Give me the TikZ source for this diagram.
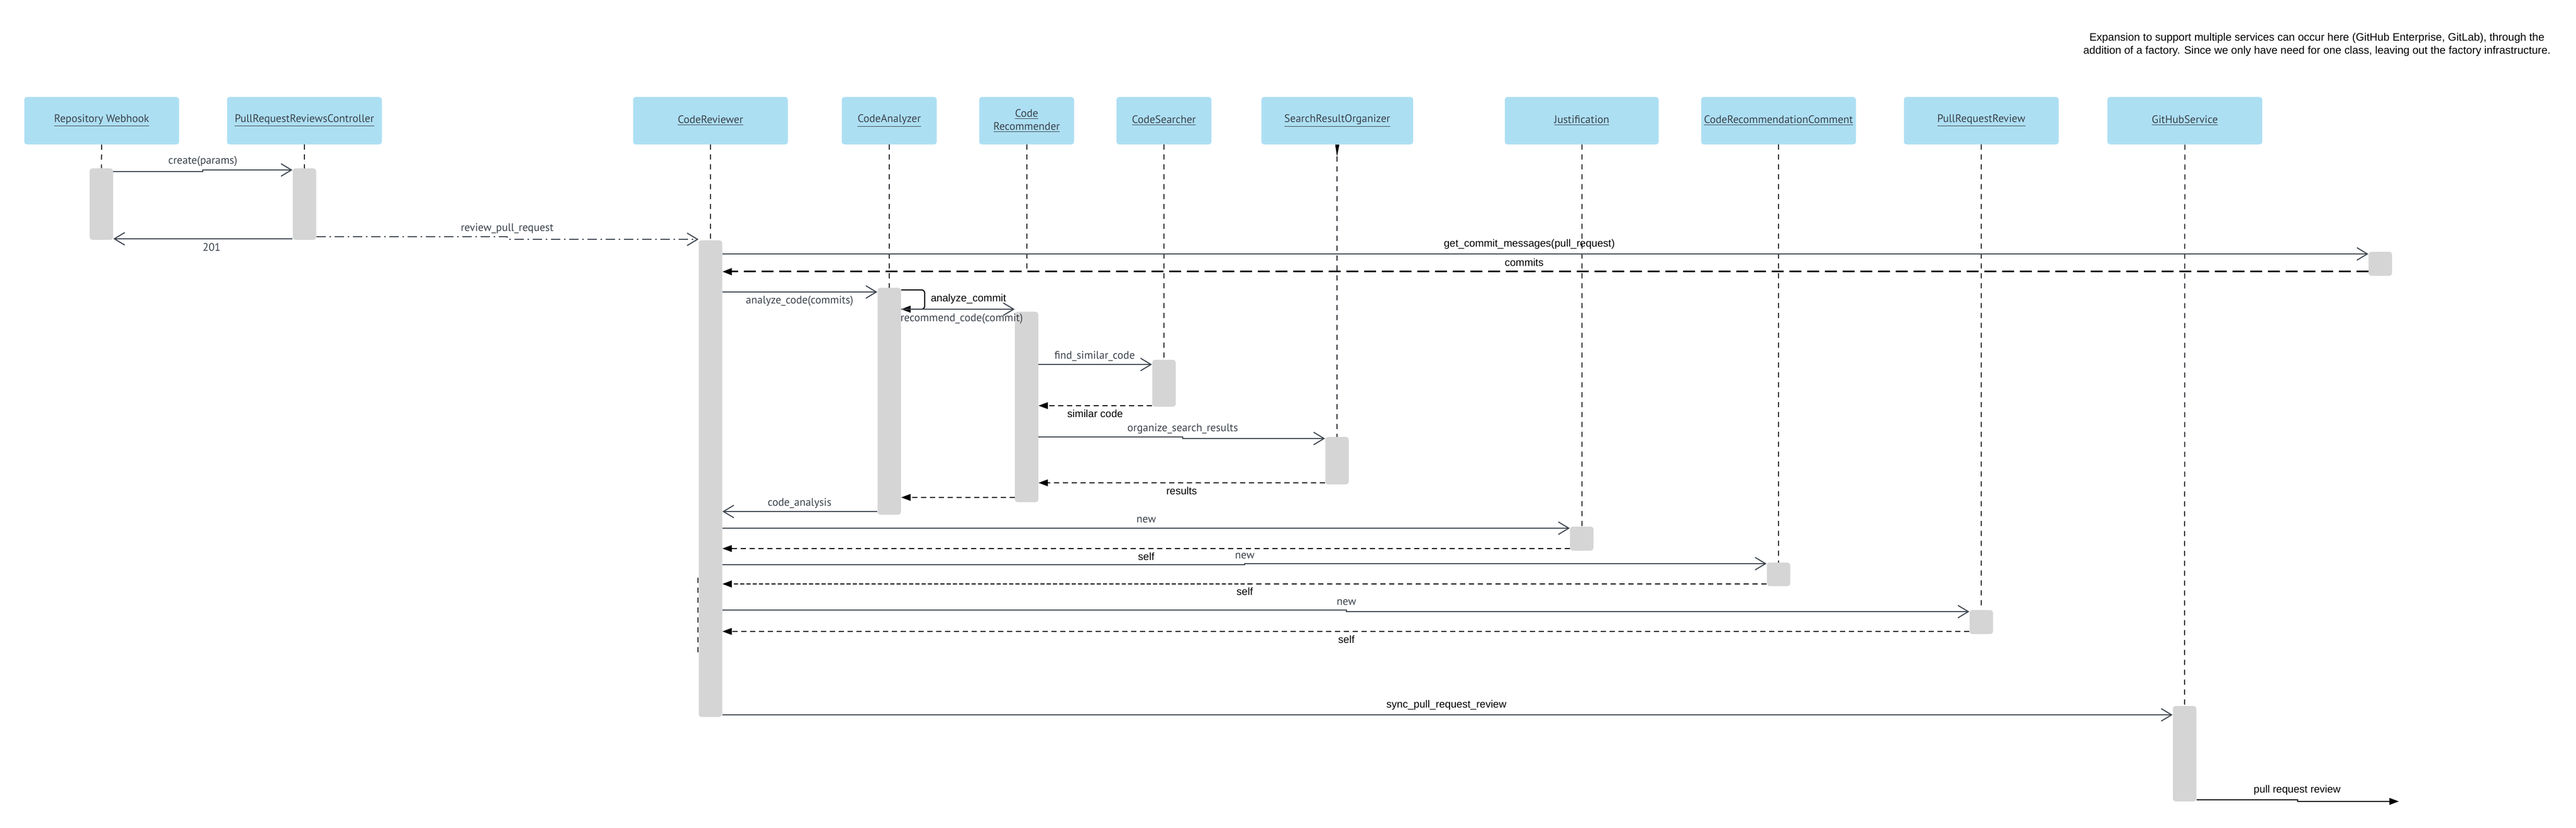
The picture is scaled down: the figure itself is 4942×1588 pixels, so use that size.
\documentclass[tikz,border=0pt]{standalone}
\usepackage{fontspec}
\setmainfont{PT Sans}
\newfontfamily\lib{Liberation Sans}
\usetikzlibrary{arrows.meta}
\definecolor{boxblue}{HTML}{ADDFF3}
\definecolor{actgray}{HTML}{D5D5D5}
\definecolor{linegray}{HTML}{3F4750}
\definecolor{lifegray}{HTML}{23272D}
\definecolor{txtgray}{HTML}{3A414A}
\begin{document}
\begin{tikzpicture}[x=0.5pt,y=-0.5pt,
  objbox/.style={fill=boxblue, rounded corners=2.5pt, minimum height=45.5pt, inner sep=0pt,
    align=center, text=txtgray, font=\fontsize{10.5}{12.5}\selectfont},
  wide/.style={minimum width=148.5pt},
  narrow/.style={minimum width=91pt},
  act/.style={fill=actgray, rounded corners=2.5pt, minimum width=22.5pt, inner sep=0pt},
  lifeline/.style={draw=lifegray, line width=1pt, dash pattern=on 5pt off 4.5pt},
  msg/.style={draw=linegray, line width=1.1pt, -{Straight Barb[length=10pt,width=12pt,line width=1pt]}},
  ret/.style={draw=black, line width=0.55pt, dash pattern=on 5pt off 3.5pt, -{Triangle[length=9pt,width=6.5pt]}},
  gl/.style={text=txtgray, inner sep=0pt, font=\fontsize{10.5}{12}\selectfont},
  bl/.style={text=black, inner sep=0pt, font=\lib\fontsize{10}{12}\selectfont}
]
\useasboundingbox (0,0) rectangle (4942,1588);
\fill[white] (0,0) rectangle (4942,1588);

% annotation
\node[text=black, align=center, inner sep=0pt, font=\lib\fontsize{10.4}{12.5}\selectfont] (note) at (4445,86)
  {Expansion to support multiple services can occur here (GitHub Enterprise, GitLab), through the\\
   addition of a factory. Since we only have need for one class, leaving out the factory infrastructure.};

% object boxes
\node[objbox,wide] (rw) at (195,231.5) {\underline{Repository Webhook}};
\node[objbox,wide] (prrc) at (584,231.5) {\underline{PullRequestReviewsController}};
\node[objbox,wide] (cr) at (1363,231.5) {\underline{CodeReviewer}};
\node[objbox,narrow] (ca) at (1706,231.5) {\underline{CodeAnalyzer}};
\node[objbox,narrow] (crec) at (1969.5,231.5) {\underline{Code}\\\underline{Recommender}};
\node[objbox,narrow] (cs) at (2233,231.5) {\underline{CodeSearcher}};
\node[objbox,minimum width=145.5pt] (sro) at (2565.5,231.5) {\underline{SearchResultOrganizer}};
\node[objbox,minimum width=147.5pt] (jus) at (3034.5,231.5) {\underline{Justification}};
\node[objbox,wide] (crc) at (3412,231.5) {\underline{CodeRecommendationComment}};
\node[objbox,wide] (prr) at (3801,231.5) {\underline{PullRequestReview}};
\node[objbox,wide] (gh) at (4191.5,231.5) {\underline{GitHubService}};

% activation bars
\node[act,minimum height=68.5pt] (rwA) at (194.5,391.5) {};
\node[act,minimum height=68.5pt] (prrcA) at (584,391.5) {};
\node[act,minimum height=457pt] (crA) at (1363,918) {};
\node[act,minimum height=217.5pt] (caA) at (1706,769.5) {};
\node[act,minimum height=182.5pt] (crecA) at (1969.5,780.5) {};
\node[act,minimum height=45pt] (csA) at (2233,735) {};
\node[act,minimum height=45.5pt] (sroA) at (2565,883.5) {};
\node[act,minimum height=23pt] (jusA) at (3034.5,1033) {};
\node[act,minimum height=22.5pt] (crcA) at (3412,1101.5) {};
\node[act,minimum height=23pt] (prrA) at (3801,1193) {};
\node[act,minimum height=91.5pt] (ghA) at (4191,1445.5) {};
\node[act,minimum height=23pt] (extA) at (4566.5,506) {};

% lifelines
\coordinate (crecEnd) at (1969.5,519);
\coordinate (crLa) at (1339,1108);
\coordinate (crLb) at (1339,1253);
\coordinate (sroTip) at (2565,300);
\draw[lifeline] (rw.south) -- (rwA.north);
\draw[lifeline] (prrc.south) -- (prrcA.north);
\draw[lifeline] (cr.south) -- (crA.north);
\draw[lifeline] (ca.south) -- (caA.north);
\draw[lifeline] (crec.south) -- (crecEnd);
\draw[lifeline] (cs.south) -- (csA.north);
\draw[lifeline] (sroTip) -- (sroA.north);
\fill[black] (sro.south) ++(-4,0) -- ++(8,0) -- (sroTip) -- cycle;
\draw[lifeline] (jus.south) -- (jusA.north);
\draw[lifeline] (crc.south) -- (crcA.north);
\draw[lifeline] (prr.south) -- (prrA.north);
\draw[lifeline] (gh.south) -- (ghA.north);
\draw[lifeline] (crLa) -- (crLb);

% messages
\draw[msg] (rwA.east |- 0,329) -- (389,329) -- (389,326) -- (prrcA.west |- 0,326);
\node[gl] (l1) at (389,309) {create(params)};
\draw[msg] (prrcA.west |- 0,458) -- (rwA.east |- 0,458);
\node[gl] (l2) at (406,474) {201};
\draw[msg, dash pattern=on 9pt off 3.5pt on 1.5pt off 3.5pt] (prrcA.east |- 0,454) -- (973,454) -- (973,459) -- (crA.west |- 0,459);
\node[gl] (l3) at (973,438) {review\_pull\_request};
\draw[msg] (crA.east |- 0,487) -- (extA.west |- 0,487);
\node[bl] (l4) at (2934,468) {get\_commit\_messages(pull\_request)};
\draw[ret, line width=1.5pt, dash pattern=on 11.5pt off 5.5pt] (extA.west |- 0,521) -- (crA.east |- 0,521);
\node[bl] (l5) at (2924,503) {commits};
\draw[msg] (crA.east |- 0,560) -- (caA.west |- 0,560);
\node[gl] (l6) at (1534,577) {analyze\_code(commits)};
\draw[black, line width=1.1pt, rounded corners=3pt, -{Triangle[length=9pt,width=6.5pt]}] (caA.east |- 0,556) -- (1774,556) -- (1774,593) -- (caA.east |- 0,593);
\node[bl] (l7) at (1858,573) {analyze\_commit};
\draw[msg] (caA.east |- 0,593) -- (crecA.west |- 0,593);
\node[gl] (l8) at (1845,611) {recommend\_code(commit)};
\draw[msg] (crecA.east |- 0,699) -- (csA.west |- 0,699);
\node[gl] (l9) at (2100,683) {find\_similar\_code};
\draw[ret] (csA.west |- 0,778) -- (crecA.east |- 0,778);
\node[bl] (l10) at (2101,793) {similar code};
\draw[msg] (crecA.east |- 0,838) -- (2269,838) -- (2269,841) -- (sroA.west |- 0,841);
\node[gl] (l11) at (2269,822) {organize\_search\_results};
\draw[ret] (sroA.west |- 0,926) -- (crecA.east |- 0,926);
\node[bl] (l12) at (2267,941) {results};
\draw[ret] (crecA.west |- 0,954) -- (caA.east |- 0,954);
\draw[msg] (caA.west |- 0,981) -- (crA.east |- 0,981);
\node[gl] (l13) at (1534,965) {code\_analysis};
\draw[msg] (crA.east |- 0,1013) -- (jusA.west |- 0,1013);
\node[gl] (l14) at (2199,997) {new};
\draw[ret] (jusA.west |- 0,1052) -- (crA.east |- 0,1052);
\node[bl] (l15) at (2199,1067) {self};
\draw[msg] (crA.east |- 0,1083) -- (2388,1083) -- (2388,1081) -- (crcA.west |- 0,1081);
\node[gl] (l16) at (2388,1066) {new};
\coordinate (r2j) at (2388,1120);
\draw[black, line width=0.55pt, dash pattern=on 5pt off 3.5pt] (crcA.west |- 0,1120) -- (r2j);
\draw[ret, line width=1.1pt, dash pattern=on 4pt off 2pt] (r2j) -- (crA.east |- 0,1120);
\node[bl] (l17) at (2388,1134) {self};
\draw[msg] (crA.east |- 0,1170) -- (2583,1170) -- (2583,1173) -- (prrA.west |- 0,1173);
\node[gl] (l18) at (2583,1155) {new};
\draw[ret] (prrA.west |- 0,1211) -- (crA.east |- 0,1211);
\node[bl] (l19) at (2583,1226) {self};
\draw[msg] (crA.east |- 0,1371) -- (ghA.west |- 0,1371);
\node[bl] (l20) at (2775,1352) {sync\_pull\_request\_review};
\coordinate (prEnd) at (4602,1537);
\draw[black, line width=0.7pt, -{Triangle[length=9pt,width=6.5pt]}] (ghA.east |- 0,1534) -- (4408,1534) -- (4408,1537) -- (prEnd);
\node[bl] (l21) at (4407,1515) {pull request review};
\end{tikzpicture}
\end{document}
